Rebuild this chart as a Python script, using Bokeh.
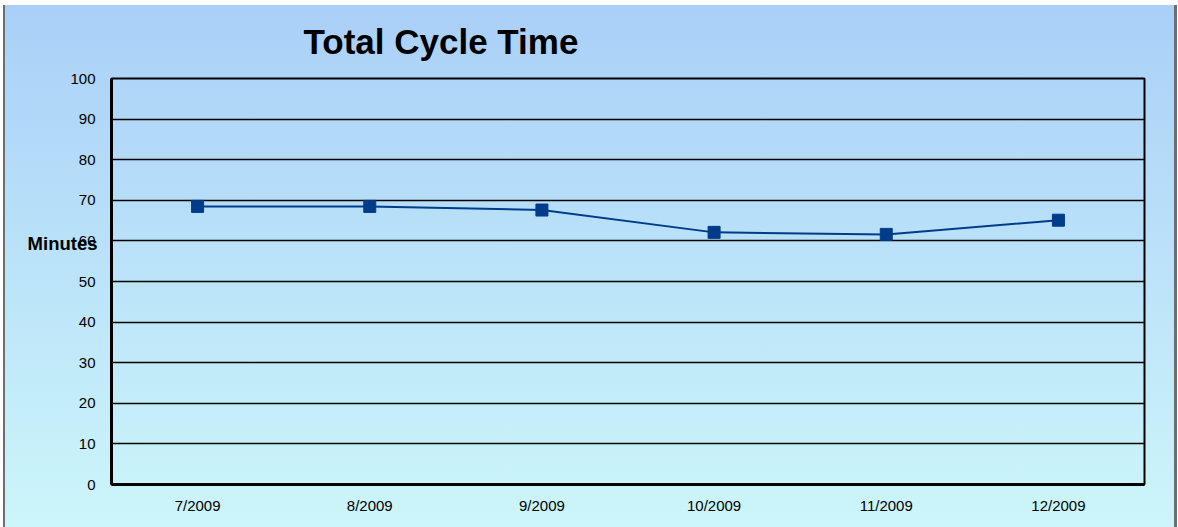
from bokeh.plotting import figure
from bokeh.models import FixedTicker, Range1d, FactorRange
from bokeh.embed import file_html
from bokeh.resources import INLINE

# Monthly total cycle time, in minutes
months = ["7/2009", "8/2009", "9/2009", "10/2009", "11/2009", "12/2009"]
cycle_minutes = [68.5, 68.5, 67.6, 62.1, 61.6, 65.1]
y_ticks = [0, 10, 20, 30, 40, 50, 60, 70, 80, 90, 100]

FONT = "Liberation Sans"
SERIES = "#003C8A"

p = figure(
    width=1178, height=527,
    x_range=FactorRange(*months, range_padding=0),
    y_range=Range1d(0, 100),
    output_backend="svg", toolbar_location=None,
    min_border_left=111, min_border_right=34,
    min_border_top=78, min_border_bottom=43,
)

# transparent canvas; the gradient panel is painted by the page element
p.background_fill_alpha = 0
p.border_fill_alpha = 0
p.styles = {
    "background": (
        "linear-gradient(to bottom, #ffffff 0px, #ffffff 5px, transparent 5px),"
        "linear-gradient(to right, #ffffff 0px, #ffffff 3px, #6e6e6e 3px, #6e6e6e 5px,"
        " transparent 5px, transparent calc(100% - 4px), #6e6e6e calc(100% - 4px),"
        " #6e6e6e calc(100% - 1px), #ffffff calc(100% - 1px)),"
        "linear-gradient(to bottom, #aacff8 0%, #ccf6fa 100%)"
    )
}

p.title.text = "Total Cycle Time"
p.title.text_font = FONT
p.title.text_font_style = "bold"
p.title.text_font_size = "35px"
p.title.text_color = "black"
p.title.align = "left"
p.title.offset = 192
p.title.standoff = 36

p.outline_line_color = "black"
p.outline_line_width = 2

p.xgrid.visible = False
p.ygrid.grid_line_color = "black"
p.ygrid.grid_line_width = 1.5
p.ygrid.ticker = FixedTicker(ticks=y_ticks)

p.yaxis.ticker = FixedTicker(ticks=y_ticks)
for ax in (p.xaxis[0], p.yaxis[0]):
    ax.axis_line_color = "black"
    ax.axis_line_width = 3
    ax.major_tick_line_color = None
    ax.minor_tick_line_color = None
    ax.major_tick_out = 0
    ax.major_tick_in = 0
    ax.major_label_text_font = FONT
    ax.major_label_text_font_size = "15px"
    ax.major_label_text_color = "black"
p.yaxis.major_label_standoff = 16
p.xaxis.major_label_standoff = 12

# horizontal axis title, lifted a little above the middle of the axis
yax = p.yaxis[0]
yax.axis_label = "Minutes\n\n\n"
yax.axis_label_orientation = "horizontal"
yax.axis_label_standoff = -30
yax.axis_label_text_font = FONT
yax.axis_label_text_font_style = "bold"
yax.axis_label_text_font_size = "18.5px"
yax.axis_label_text_line_height = 1.22
yax.axis_label_text_color = "black"

p.line(x=months, y=cycle_minutes, line_color=SERIES, line_width=2)
p.scatter(x=months, y=cycle_minutes, marker="square", size=12,
          fill_color=SERIES, line_color=SERIES)

open("out.html", "w").write(file_html(p, INLINE))
